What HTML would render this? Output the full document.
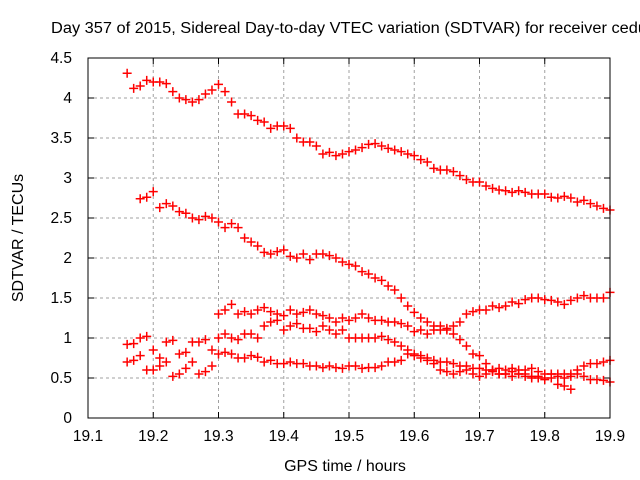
<!DOCTYPE html>
<html><head><meta charset="utf-8"><style>
body{margin:0;background:#fff;}
svg{display:block;font-family:"Liberation Sans",sans-serif;}
</style></head><body>
<svg id="chart" width="640" height="480">
<text x="51" y="33" font-size="15.5" textLength="596" lengthAdjust="spacingAndGlyphs">Day 357 of 2015, Sidereal Day-to-day VTEC variation (SDTVAR) for receiver cedu</text>
<g id="grid"></g><g id="ticks"></g><g id="marks"></g>
<rect x="88" y="58" width="522" height="360" fill="none" stroke="#000" stroke-width="1"/>
<text x="345" y="471" font-size="16" text-anchor="middle">GPS time / hours</text>
<text transform="translate(23,238) rotate(-90)" font-size="16" text-anchor="middle">SDTVAR / TECUs</text>
</svg>
<script>
const xTicks=[19.1,19.2,19.3,19.4,19.5,19.6,19.7,19.8,19.9];
const yTicks=[0,0.5,1,1.5,2,2.5,3,3.5,4,4.5];
const step=0.01;
const sA_start=19.16;
const sA=[4.31,4.12,4.15,4.22,4.2,4.2,4.18,4.08,4.0,3.98,3.95,3.98,4.05,4.1,4.17,4.08,3.95,3.8,3.8,3.78,3.72,3.7,3.62,3.65,3.65,3.62,3.5,3.45,3.45,3.4,3.3,3.32,3.28,3.3,3.33,3.35,3.38,3.42,3.43,3.4,3.37,3.35,3.33,3.3,3.28,3.23,3.2,3.12,3.1,3.1,3.08,3.03,2.98,2.95,2.95,2.9,2.87,2.85,2.84,2.82,2.84,2.82,2.8,2.8,2.8,2.76,2.75,2.77,2.75,2.7,2.72,2.68,2.65,2.62,2.6];
const sB_start=19.18;
const sB=[2.74,2.76,2.83,2.63,2.68,2.65,2.58,2.56,2.5,2.48,2.52,2.5,2.45,2.38,2.43,2.38,2.25,2.2,2.15,2.07,2.05,2.08,2.1,2.02,2.0,2.05,1.98,2.05,2.05,2.03,2.0,1.95,1.92,1.9,1.83,1.8,1.75,1.72,1.65,1.6,1.5,1.4,1.32,1.25,1.2,1.15,1.1,1.1,1.05,0.98,0.9,0.8,0.78,0.68,0.6,0.55,0.55,0.58,0.55,0.55,0.52,0.5,0.48,0.5,0.42,0.4,0.36];
const sC_start=19.16;
const sC=[0.92,0.93,1.0,1.02,0.85,0.75,0.95,0.97,0.8,0.82,0.95,0.95,0.98,0.85,1.3,1.35,1.42,1.3,1.33,1.3,1.35,1.38,1.33,1.3,1.28,1.35,1.3,1.32,1.35,1.3,1.28,1.25,1.2,1.25,1.22,1.25,1.3,1.25,1.22,1.22,1.2,1.2,1.18,1.15,1.08,1.1,1.05,1.1,1.15,1.12,1.15,1.2,1.3,1.33,1.35,1.35,1.4,1.38,1.4,1.45,1.43,1.48,1.5,1.5,1.48,1.47,1.45,1.42,1.47,1.5,1.53,1.5,1.5,1.5,1.57];
const sD_start=19.30;
const sD=[1.0,1.05,1.0,0.98,1.05,1.05,1.0,1.15,1.2,1.22,1.1,1.15,1.18,1.12,1.12,1.08,1.15,1.1,1.05,1.1,1.0,1.0,1.0,1.0,1.0,1.02,0.98,0.95,0.9,0.85,0.8,0.78,0.75,0.72,0.7,0.7,0.68,0.65,0.65,0.62,0.62,0.6,0.6,0.62,0.6,0.62,0.6,0.6,0.62,0.58,0.55,0.55,0.55,0.55,0.55,0.6,0.65,0.68,0.68,0.7,0.72];
const sE_start=19.16;
const sE=[0.7,0.72,0.78,0.6,0.6,0.65,0.7,0.52,0.55,0.62,0.7,0.55,0.58,0.65,0.8,0.82,0.8,0.75,0.75,0.78,0.76,0.7,0.72,0.68,0.68,0.7,0.68,0.68,0.65,0.65,0.63,0.65,0.63,0.62,0.65,0.65,0.62,0.63,0.63,0.65,0.7,0.7,0.72,0.8,0.78,0.75,0.72,0.68,0.6,0.58,0.55,0.58,0.6,0.55,0.52,0.55,0.58,0.55,0.55,0.52,0.55,0.52,0.5,0.52,0.5,0.55,0.52,0.5,0.52,0.55,0.52,0.48,0.48,0.47,0.45];

const L=88,R=610,T=58,B=418;
const xs=v=>L+(v-19.1)/0.8*(R-L);
const ys=v=>B-(v/4.5)*(B-T);
const NS="http://www.w3.org/2000/svg";
const mk=(t,a,p)=>{const e=document.createElementNS(NS,t);for(const k in a)e.setAttribute(k,a[k]);p.appendChild(e);return e;};
const grid=document.getElementById('grid'),ticks=document.getElementById('ticks'),marks=document.getElementById('marks');
xTicks.forEach(v=>{const x=xs(v);
 if(v>19.1&&v<19.9){const g=mk('line',{x1:x,x2:x,y1:T,y2:B,stroke:'#a0a0a0','stroke-dasharray':'3,3'},grid);
 
 }
 mk('line',{x1:x,x2:x,y1:B,y2:B-6,stroke:'#000'},ticks);mk('line',{x1:x,x2:x,y1:T,y2:T+6,stroke:'#000'},ticks);
 const t=mk('text',{x:x,y:B+23,'font-size':15.5,'text-anchor':'middle'},ticks);t.textContent=v.toFixed(1);
 
 });
yTicks.forEach(v=>{const y=ys(v);
 if(v>0&&v<4.5){const g=mk('line',{x1:L,x2:R,y1:y,y2:y,stroke:'#a0a0a0','stroke-dasharray':'3,3'},grid);
 
 }
 mk('line',{x1:L,x2:L+6,y1:y,y2:y,stroke:'#000'},ticks);mk('line',{x1:R,x2:R-6,y1:y,y2:y,stroke:'#000'},ticks);
 const t=mk('text',{x:L-16,y:y+5,'font-size':15.5,'text-anchor':'end'},ticks);t.textContent=String(v);
 
 });
[[sA_start,sA],[sB_start,sB],[sC_start,sC],[sD_start,sD],[sE_start,sE]].forEach(([s,arr],si)=>{
 arr.forEach((v,i)=>{const x=xs(s+i*step),y=ys(v);
  const p=mk('path',{d:`M${x-4.5},${y}H${x+4.5}M${x},${y-4.5}V${y+4.5}`,stroke:'#f00','stroke-width':1.5,fill:'none'},marks);
  
  });});
</script>
</body></html>
